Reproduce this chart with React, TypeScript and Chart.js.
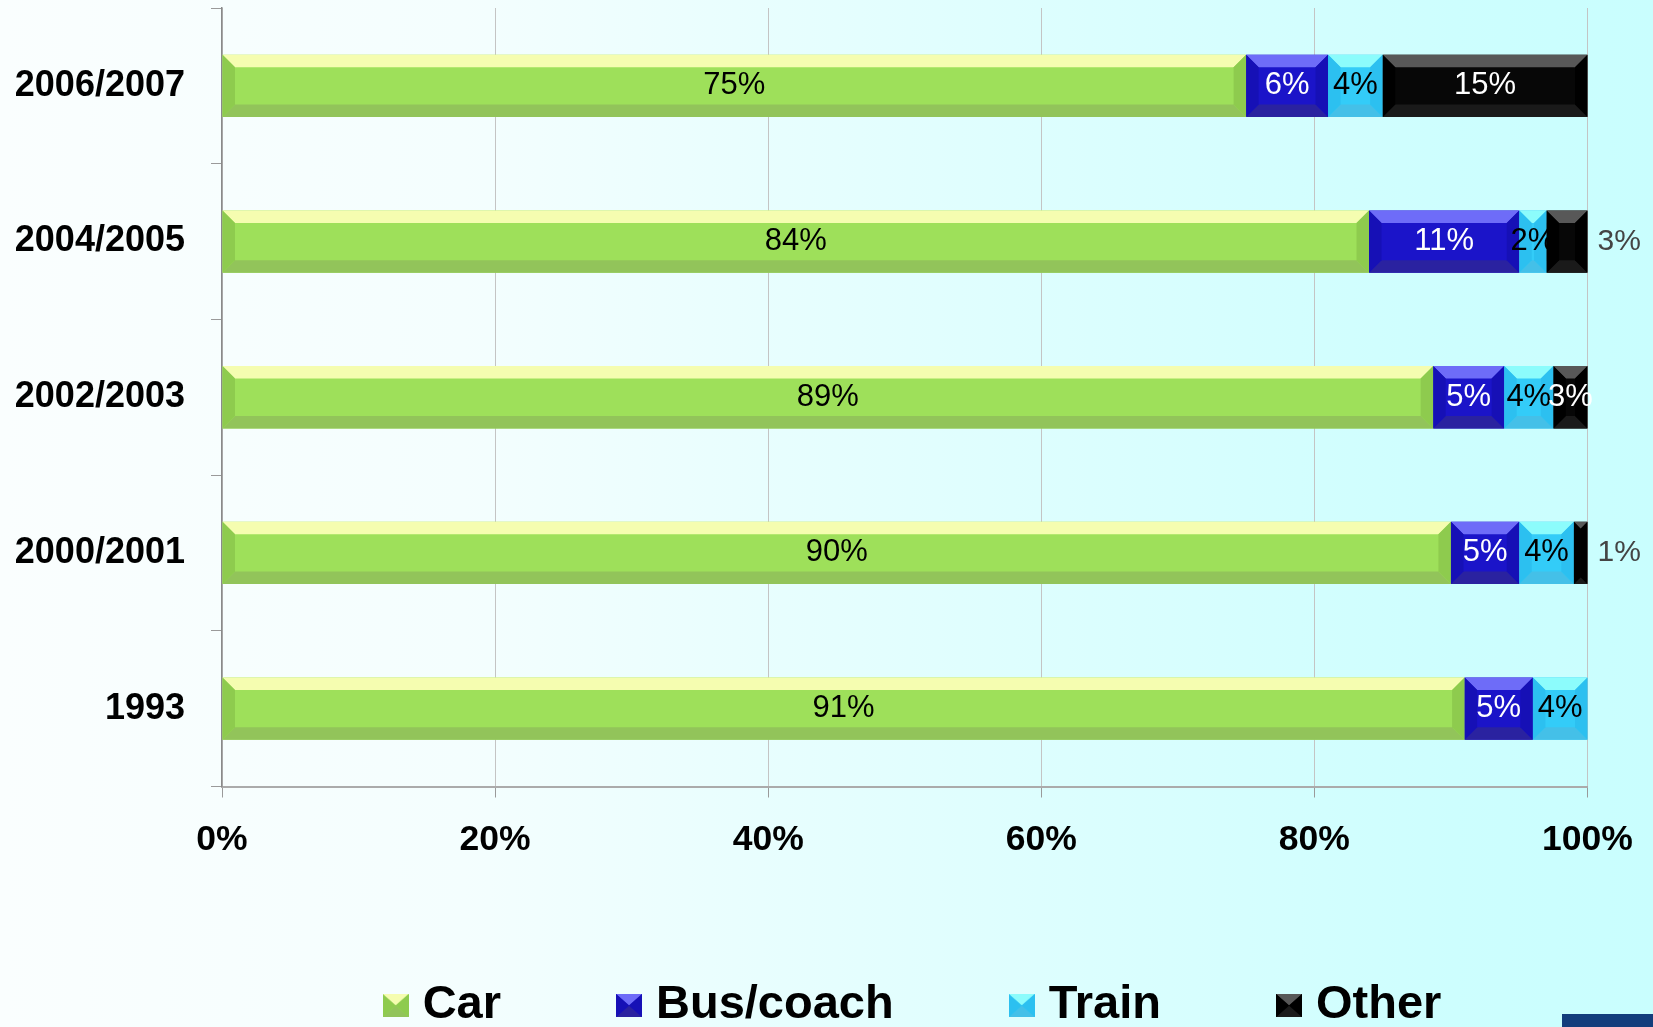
import React, { useEffect, useRef } from 'react';
import { Chart, registerables } from 'chart.js';

Chart.register(...registerables);

const FONT = '"Liberation Sans", Arial, sans-serif';

// ---- data ----
const categories = ['2006/2007', '2004/2005', '2002/2003', '2000/2001', '1993'];
const seriesNames = ['Car', 'Bus/coach', 'Train', 'Other'];
const carValues = [75, 84, 88.7, 90, 91];
const busValues = [6, 11, 5.2, 5, 5];
const trainValues = [4, 2, 3.6, 4, 4];
const otherValues = [15, 3, 2.5, 1, 0];
const xTickValues = [0, 20, 40, 60, 80, 100];

// label placement: dataset index -> category indices whose label sits outside the bar
const outsideLabelPoints: Record<number, number[]> = { 3: [1, 3] };

const palettes = [
  { main: '#9ee05a', top: '#f5fdb0', bottom: '#92c45a', side: '#8ecb4e', label: '#000000' },
  { main: '#1b14c9', top: '#6e6cf8', bottom: '#2a22a0', side: '#1610b6', label: '#ffffff' },
  { main: '#33ccf8', top: '#8cfcfc', bottom: '#44c0e8', side: '#2cc0f0', label: '#000000' },
  { main: '#070707', top: '#585858', bottom: '#1a1a1a', side: '#000000', label: '#ffffff' },
];

function poly(ctx: CanvasRenderingContext2D, pts: number[][], color: string) {
  ctx.beginPath();
  ctx.moveTo(pts[0][0], pts[0][1]);
  for (let i = 1; i < pts.length; i++) ctx.lineTo(pts[i][0], pts[i][1]);
  ctx.closePath();
  ctx.fillStyle = color;
  ctx.fill();
}

function makeIcon(p: { main: string; top: string; bottom: string; side: string }) {
  const c = document.createElement('canvas');
  c.width = 26;
  c.height = 23;
  const ctx = c.getContext('2d')!;
  const w = 26, h = 23;
  poly(ctx, [[0, 0], [w, 0], [w, h], [0, h]], p.main);
  poly(ctx, [[0, 0], [w, 0], [w / 2, h / 2]], p.top);
  poly(ctx, [[0, h], [w, h], [w / 2, h / 2]], p.bottom);
  poly(ctx, [[0, 0], [w / 2, h / 2], [0, h]], p.side);
  poly(ctx, [[w, 0], [w / 2, h / 2], [w, h]], p.side);
  return c;
}

const decorPlugin = {
  id: 'decor',
  afterLayout(chart: any) {
    const lg = chart.legend;
    if (lg) {
      lg.left += 12;
      lg.right += 12;
    }
  },
  afterDatasetsDraw(chart: any) {
    const ctx: CanvasRenderingContext2D = chart.ctx;
    chart.data.datasets.forEach((ds: any, di: number) => {
      const meta = chart.getDatasetMeta(di);
      const pal = palettes[di];
      meta.data.forEach((el: any) => {
        const p = el.getProps(['x', 'y', 'base', 'height'], true);
        const l = Math.min(p.x, p.base);
        const r = Math.max(p.x, p.base);
        const t = p.y - p.height / 2;
        const b = p.y + p.height / 2;
        const w = r - l;
        if (w < 0.5) return;
        const bv = Math.min(12.5, w / 2, p.height / 2);
        ctx.save();
        poly(ctx, [[l, t], [r, t], [r - bv, t + bv], [l + bv, t + bv]], pal.top);
        poly(ctx, [[l, b], [r, b], [r - bv, b - bv], [l + bv, b - bv]], pal.bottom);
        poly(ctx, [[l, t], [l + bv, t + bv], [l + bv, b - bv], [l, b]], pal.side);
        poly(ctx, [[r, t], [r - bv, t + bv], [r - bv, b - bv], [r, b]], pal.side);
        ctx.restore();
      });
    });
    ctx.save();
    ctx.textBaseline = 'middle';
    chart.data.datasets.forEach((ds: any, di: number) => {
      const meta = chart.getDatasetMeta(di);
      meta.data.forEach((el: any, i: number) => {
        const v = ds.data[i];
        if (!v) return;
        const p = el.getProps(['x', 'y', 'base'], true);
        const text = Math.round(v) + '%';
        const outside = (outsideLabelPoints[di] || []).includes(i);
        if (outside) {
          ctx.font = `30px ${FONT}`;
          ctx.fillStyle = '#444444';
          ctx.textAlign = 'left';
          ctx.fillText(text, Math.max(p.x, p.base) + 10, p.y);
        } else {
          ctx.font = `31px ${FONT}`;
          ctx.fillStyle = palettes[di].label;
          ctx.textAlign = 'center';
          ctx.fillText(text, (p.x + p.base) / 2, p.y);
        }
      });
    });
    ctx.restore();
  },
};

export default function App() {
  const ref = useRef<HTMLCanvasElement | null>(null);

  useEffect(() => {
    document.body.style.margin = '0';
    document.body.style.overflow = 'hidden';
    const canvas = ref.current!;
    const icons = palettes.map((p) => makeIcon(p));
    const seriesValues = [carValues, busValues, trainValues, otherValues];
    const chart = new Chart(canvas, {
      type: 'bar',
      data: {
        labels: categories,
        datasets: seriesNames.map((name, i) => ({
          label: name,
          data: seriesValues[i],
          backgroundColor: palettes[i].main,
          borderWidth: 0,
          categoryPercentage: 1,
          barPercentage: 0.4,
        })),
      },
      options: {
        indexAxis: 'y',
        responsive: false,
        maintainAspectRatio: false,
        animation: false,
        events: [],
        layout: { padding: { top: 8, right: 65.5, left: 0, bottom: 0 } },
        scales: {
          x: {
            stacked: true,
            min: 0,
            max: 100,
            afterBuildTicks: (scale: any) => {
              scale.ticks = xTickValues.map((v) => ({ value: v }));
            },
            afterFit: (scale: any) => {
              scale.height = 71;
              scale.paddingLeft = 0;
              scale.paddingRight = 0;
            },
            ticks: {
              callback: (v: any) => v + '%',
              color: '#000',
              padding: 21,
              maxRotation: 0,
              font: { family: FONT, size: 35.5, weight: 'bold' },
            },
            grid: { color: '#c4c4c4', tickColor: '#9a9a9a', tickLength: 11, lineWidth: 1 },
            border: { color: '#ababab', width: 2 },
          },
          y: {
            stacked: true,
            afterFit: (scale: any) => {
              scale.width = 222;
              scale.paddingTop = 0;
              scale.paddingBottom = 0;
            },
            ticks: {
              color: '#000',
              padding: 26,
              font: { family: FONT, size: 36, weight: 'bold' },
            },
            grid: { drawOnChartArea: false, offset: true, tickLength: 11, color: '#9a9a9a', tickColor: '#9a9a9a' },
            border: { color: '#8a8a8a', width: 1.5 },
          },
        },
        plugins: {
          tooltip: { enabled: false },
          legend: {
            position: 'bottom',
            fullSize: false,
            labels: {
              usePointStyle: true,
              boxWidth: 7,
              boxHeight: 23,
              padding: 124.5,
              color: '#000',
              font: { family: FONT, size: 47, weight: 'bold' },
              generateLabels: () =>
                seriesNames.map((name, i) => ({
                  text: name,
                  pointStyle: icons[i],
                  fillStyle: palettes[i].main,
                  strokeStyle: palettes[i].main,
                  lineWidth: 0,
                  hidden: false,
                  datasetIndex: i,
                  fontColor: '#000',
                })),
            },
          },
        },
      } as any,
      plugins: [decorPlugin],
    });
    return () => chart.destroy();
  }, []);

  return (
    <div
      style={{
        position: 'fixed',
        left: 0,
        top: 0,
        width: 1653,
        height: 1027,
        overflow: 'hidden',
        background: 'linear-gradient(90deg, #fafefe 0%, #f4fefe 28%, #e2fefe 55%, #cdfefe 88%, #c9fefe 100%)',
      }}
    >
      <canvas ref={ref} width={1653} height={1039} style={{ display: 'block' }} />
      <div
        style={{
          position: 'absolute',
          right: 0,
          bottom: 0,
          width: 91,
          height: 13,
          background: '#133d7c',
        }}
      />
    </div>
  );
}
